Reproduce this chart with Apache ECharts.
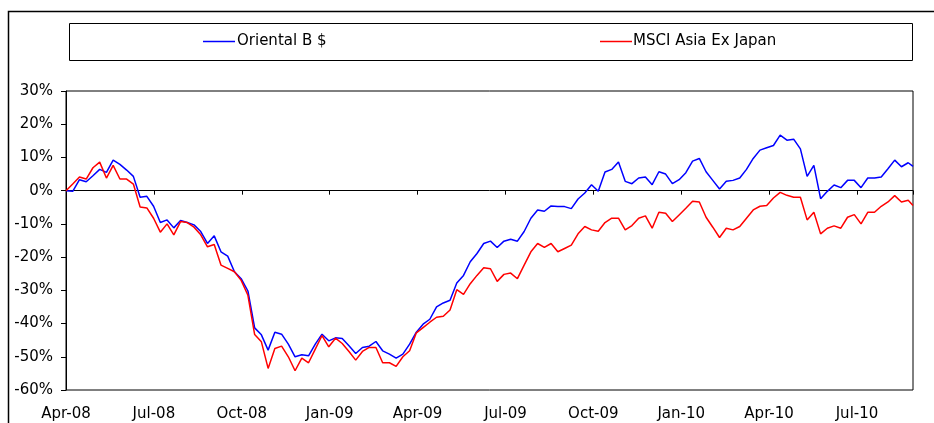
<!DOCTYPE html>
<html>
<head>
<meta charset="utf-8">
<script src="https://cdn.jsdelivr.net/npm/echarts@6/dist/echarts.min.js"></script>
<style>
  html, body { margin: 0; padding: 0; background: #fff; }
  #chart { width: 934px; height: 423px; }
</style>
</head>
<body>
<div id="chart"></div>
<script>
// ---- DATA (cumulative performance, %, weekly from Apr-08) ----
const seriesNames = ['Oriental B $', 'MSCI Asia Ex Japan'];
const tickLabels = ['Apr-08', 'Jul-08', 'Oct-08', 'Jan-09', 'Apr-09', 'Jul-09', 'Oct-09', 'Jan-10', 'Apr-10', 'Jul-10'];
const daysPerWeek = 7;
const lastObservationDay = 880; // final (partial-week) observation, days after 1 Apr 2008

const orientalB = [
  0, -0.2, 3.3, 2.7, 4.5, 6.4, 5.5, 9.2, 7.9, 6.2,
  4.3, -2.0, -1.7, -4.7, -9.6, -8.8, -11.2, -9.0, -9.6, -10.3,
  -12.3, -15.9, -13.6, -18.4, -19.7, -24.4, -26.5, -30.2, -41.3, -43.4,
  -48.0, -42.6, -43.2, -46.2, -50.0, -49.4, -49.7, -46.2, -43.2, -45.2,
  -44.3, -44.5, -46.7, -49.0, -47.2, -46.8, -45.4, -48.2, -49.2, -50.4,
  -49.2, -46.2, -42.6, -40.2, -38.7, -35.0, -33.8, -33.0, -27.8, -25.5,
  -21.4, -18.9, -15.9, -15.2, -17.1, -15.2, -14.6, -15.2, -12.3, -8.3,
  -5.8, -6.2, -4.6, -4.8, -4.8, -5.4, -2.5, -0.7, 1.8, -0.2,
  5.6, 6.4, 8.6, 2.8, 2.1, 3.8, 4.1, 1.8, 5.7, 5.0,
  2.1, 3.3, 5.4, 8.9, 9.7, 5.7, 3.1, 0.5, 2.8, 3.1,
  3.8, 6.4, 9.7, 12.2, 12.9, 13.6, 16.7, 15.2, 15.5, 12.6,
  4.3, 7.6, -2.4, -0.2, 1.7, 0.9, 3.1, 3.1, 0.9, 3.8,
  3.8, 4.1, 6.6, 9.2, 7.2, 8.4, 7.3
];

const msciAsiaExJapan = [
  0, 2.0, 4.1, 3.5, 6.9, 8.6, 3.8, 7.6, 3.5, 3.5,
  2.0, -4.9, -5.2, -8.3, -12.5, -10.0, -13.3, -9.3, -9.6, -11.0,
  -13.3, -16.9, -16.2, -22.4, -23.4, -24.4, -27.0, -31.5, -43.3, -45.5,
  -53.5, -47.5, -46.8, -50.0, -54.2, -50.4, -51.8, -47.7, -43.6, -47.0,
  -44.4, -46.0, -48.4, -51.0, -48.4, -47.2, -47.2, -51.8, -51.8, -52.9,
  -50.0, -48.2, -42.8, -41.2, -39.6, -38.1, -37.8, -35.9, -29.8, -31.2,
  -28.0, -25.5, -23.2, -23.5, -27.3, -25.2, -24.8, -26.5, -22.4, -18.4,
  -15.9, -17.1, -15.9, -18.4, -17.4, -16.4, -13.0, -10.8, -11.8, -12.2,
  -9.6, -8.3, -8.3, -11.8, -10.5, -8.3, -7.6, -11.3, -6.5, -6.8,
  -9.3, -7.3, -5.3, -3.2, -3.4, -8.0, -11.0, -14.1, -11.3, -11.8,
  -10.8, -8.3, -5.8, -4.7, -4.5, -2.2, -0.5, -1.4, -2.0, -2.0,
  -8.8, -6.5, -13.0, -11.3, -10.6, -11.3, -8.0, -7.2, -10.0, -6.5,
  -6.5, -4.7, -3.4, -1.5, -3.4, -2.9, -4.5
];

// observation day (days after 1 Apr 2008) of each point
const observationDays = orientalB.map((_, i) =>
  i === orientalB.length - 1 ? lastObservationDay : i * daysPerWeek);

const quarterDays = 91.3125;

const font = 'DejaVu Sans';
const chart = echarts.init(document.getElementById('chart'), null, { renderer: 'canvas' });

const labelFormatter = function (v) {
  const q = v / quarterDays;
  const k = Math.round(q);
  if (Math.abs(q - k) > 0.01) return '';
  return tickLabels[k] || '';
};

const legendBase = {
  top: 34, padding: 0, icon: 'rect',
  itemWidth: 32, itemHeight: 1.5, itemGap: 0
};

chart.setOption({
  animation: false,
  backgroundColor: '#fff',
  textStyle: { fontFamily: font },
  grid: {
    left: 66, right: 21, top: 91, bottom: 33,
    show: true, borderColor: '#000', borderWidth: 1, backgroundColor: 'transparent'
  },
  legend: [
    Object.assign({}, legendBase, {
      data: [{ name: seriesNames[0], itemStyle: { color: '#0000ff' } }], left: 203,
      textStyle: { fontFamily: font, fontSize: 15, color: '#000', padding: [0, 0, 0, -3] }
    }),
    Object.assign({}, legendBase, {
      data: [{ name: seriesNames[1], itemStyle: { color: '#ff0000' } }], left: 600,
      textStyle: { fontFamily: font, fontSize: 15, color: '#000', padding: [0, 0, 0, -4] }
    })
  ],
  xAxis: [
    {
      type: 'value', min: 0, max: lastObservationDay, interval: quarterDays,
      axisLine: { show: true, onZero: true, lineStyle: { color: '#000', width: 1 } },
      axisTick: { show: true, length: 4, lineStyle: { color: '#000' } },
      axisLabel: { show: false },
      splitLine: { show: false }
    },
    {
      type: 'value', min: 0, max: lastObservationDay, interval: quarterDays,
      position: 'bottom',
      axisLine: { show: false, onZero: false },
      axisTick: { show: false },
      axisLabel: {
        show: true, margin: 17, fontFamily: font, fontSize: 15, color: '#000',
        formatter: labelFormatter, showMinLabel: true, showMaxLabel: false, hideOverlap: false
      },
      splitLine: { show: false }
    }
  ],
  yAxis: {
    type: 'value', min: -60, max: 30, interval: 10,
    axisLine: { show: true, lineStyle: { color: '#000', width: 1 } },
    axisTick: { show: true, length: 5, lineStyle: { color: '#000' } },
    axisLabel: { margin: 13, fontFamily: font, fontSize: 15, color: '#000', formatter: '{value}%' },
    splitLine: { show: false }
  },
  series: [
    {
      name: seriesNames[0], type: 'line', xAxisIndex: 0,
      data: orientalB.map((v, i) => [observationDays[i], v]),
      symbol: 'none', lineStyle: { color: '#0000ff', width: 1.5 }, itemStyle: { color: '#0000ff' },
      z: 3
    },
    {
      name: seriesNames[1], type: 'line', xAxisIndex: 0,
      data: msciAsiaExJapan.map((v, i) => [observationDays[i], v]),
      symbol: 'none', lineStyle: { color: '#ff0000', width: 1.5 }, itemStyle: { color: '#ff0000' },
      z: 4
    }
  ],
  graphic: [
    {
      type: 'rect', silent: true, z: -1,
      shape: { x: 8.5, y: 11.5, width: 1000, height: 500 },
      style: { fill: 'none', stroke: '#000', lineWidth: 1.5 }
    },
    {
      type: 'rect', silent: true, z: -1,
      shape: { x: 69.5, y: 23.5, width: 843, height: 37 },
      style: { fill: 'none', stroke: '#000', lineWidth: 1 }
    }
  ]
});
</script>
</body>
</html>
